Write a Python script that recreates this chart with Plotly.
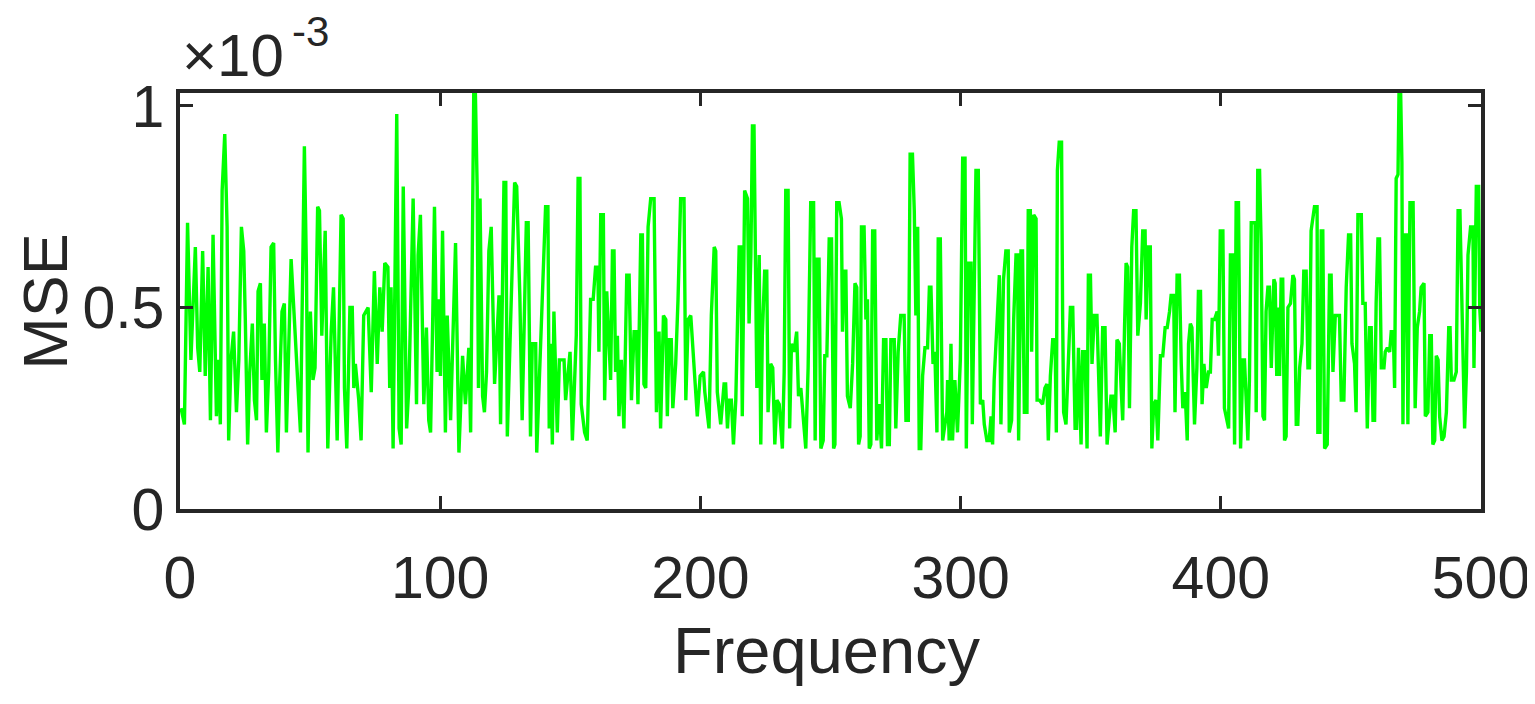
import plotly.graph_objects as go

# Frequency positions and MSE values (in units of 1e-3)
freq = [
    0.4, 1.7, 2.9, 4.2, 5.3, 5.9, 6.8, 7.6, 8.7, 9.7, 10.8, 11.7, 12.7, 14.0, 14.9, 15.5, 16.2, 17.2, 18.1, 18.7,
    19.6, 20.6, 21.7, 22.6, 23.6, 24.5, 25.1, 26.0, 26.8, 27.8, 28.6, 29.4, 30.0, 30.9, 31.5, 32.4, 33.2, 34.1,
    35.0, 36.0, 36.7, 37.6, 38.3, 39.2, 40.1, 40.9,
    42.7, 44.4, 45.6, 46.3, 47.8, 48.6, 49.2, 50.1, 51.1, 51.9, 52.9, 53.6, 54.5, 55.8, 56.8, 58.1, 59.0, 60.4,
    61.9, 62.7, 63.2, 64.1, 65.3, 66.2, 66.8, 67.4, 68.7, 69.6, 70.6, 72.3, 73.5, 74.7, 75.8, 76.8, 77.7, 78.7,
    79.9, 80.6, 81.1, 81.9, 83.3,
    84.2, 85.0, 85.8, 87.1, 88.0, 89.6, 90.9, 91.5, 92.4, 93.7, 94.7, 95.6, 96.3, 97.1, 97.8, 98.8, 99.4, 100.1,
    100.9, 102.0, 102.7, 104.0, 105.9, 107.2, 108.6, 109.7, 111.0, 111.7, 112.9, 113.5, 114.2, 114.7, 115.3,
    116.3, 117.0, 117.8, 118.7, 119.6, 120.9, 122.6, 123.2, 124.5, 125.2, 125.8,
    127.3, 128.6, 129.4, 130.6, 131.5, 133.1, 133.8, 134.7, 135.4, 136.7, 137.1, 139.5, 140.5, 141.4, 141.9,
    142.4, 143.1, 143.7, 145.0, 145.8, 147.6, 148.2, 149.9, 150.8, 152.3, 153.0, 153.7, 154.2, 155.5, 156.5,
    157.8, 158.8, 159.7, 160.6, 161.0, 161.7, 162.7, 163.2, 164.0, 165.5, 166.2, 166.8, 167.4,
    168.1, 168.7, 169.6, 170.6, 171.7, 172.6, 173.5, 174.5, 175.4, 176.0, 177.1, 177.7, 178.3, 179.0, 179.9,
    180.9, 182.2, 183.1, 184.1, 184.7, 185.8, 186.7, 187.3, 187.9, 188.8, 189.4, 190.5, 191.4, 192.4, 193.7,
    194.4, 195.3, 196.3, 197.8, 198.8, 199.9, 201.2, 201.7, 203.3, 204.2, 205.3, 205.9, 206.5, 207.8, 209.1, 209.7,
    210.4, 211.0, 211.9, 212.7, 213.6, 214.9, 215.5, 216.1, 217.0, 218.1, 218.7, 219.4, 220.0, 220.6, 221.3,
    221.7, 222.6, 223.2, 223.8, 224.7, 225.5, 226.0, 227.0, 227.8, 228.6, 229.4, 230.3, 231.5, 232.2, 232.8,
    233.7, 234.3, 235.0, 236.0, 237.0, 237.7, 238.6, 239.6, 240.5, 241.4, 242.4, 243.5, 244.1, 244.7, 245.6,
    246.3, 247.2, 247.8, 248.6, 249.5, 250.4, 251.2, 251.7, 252.4,
    253.3, 254.2, 254.6, 255.2, 255.9, 256.5, 257.6, 258.5, 259.4, 260.1, 260.8, 261.4, 261.9, 262.9, 263.6,
    264.2, 264.9, 265.5, 266.2, 267.0, 267.8, 268.7, 269.6, 270.4, 271.3, 271.9, 272.6, 273.2, 274.5, 275.1,
    276.0, 277.0, 278.3, 279.0, 279.9, 280.6, 281.5, 282.2, 282.8, 283.5, 284.1, 284.7, 285.4, 286.3, 287.3,
    288.0, 288.6, 289.4, 290.1, 290.9, 291.4, 292.2, 293.1, 294.0, 294.7,
    295.0, 295.6, 296.3, 296.9, 297.8, 298.8, 299.9, 300.8, 301.7, 302.2, 303.0, 304.0, 304.5, 305.3, 305.9,
    306.8, 307.6, 308.5, 309.1, 310.1, 311.0, 311.7, 312.3, 312.9, 314.0, 314.9, 315.5, 316.5, 317.4, 318.3,
    318.7, 319.6, 320.4, 321.3, 321.9, 322.3, 323.2, 323.8, 324.5, 325.5, 326.0, 326.8, 327.3, 328.1, 329.0,
    329.4, 330.3, 331.5, 332.4, 333.2, 333.7, 334.5, 335.4, 336.3, 336.8,
    337.2, 337.9, 338.8, 339.2, 339.6, 340.5, 341.2, 342.2, 343.1, 344.0, 344.6, 345.3, 346.3, 346.9, 347.8,
    348.6, 349.1, 349.9, 350.5, 351.4, 352.4, 352.9, 353.7, 354.6, 355.5, 356.3, 357.2, 357.8, 358.5, 359.4,
    360.1, 361.0, 361.7, 362.3, 363.0, 363.6, 364.2, 364.9, 365.8, 366.5, 367.4, 368.1, 369.1, 370.0, 370.9,
    371.3, 372.2, 372.9, 373.5, 374.2, 375.1, 375.8, 376.8, 377.7, 378.6, 379.4,
    380.3, 380.9, 381.9, 382.4, 383.2, 384.1, 384.8, 385.4, 386.3, 387.1, 387.6, 388.3, 388.9, 389.9, 390.8,
    391.4, 392.2, 392.8, 393.5, 394.4, 395.3, 396.0, 396.7, 397.6, 398.6, 399.1, 399.8, 400.8, 401.4, 402.0,
    403.0, 403.7, 404.6, 405.3, 405.9, 406.8, 407.6, 408.5, 409.1, 409.7, 410.4, 411.0, 411.7, 413.2, 413.6,
    414.2, 414.9, 415.5, 416.2, 416.8, 417.4, 418.1, 418.7, 419.4, 420.4, 420.9, 421.5,
    421.9, 422.6, 423.2, 423.8, 424.5, 425.1, 425.8, 426.8, 427.7, 428.3, 429.0, 429.6, 430.3, 431.2, 431.9,
    432.8, 433.5, 434.1, 434.7, 436.0, 437.0, 437.3, 438.1, 438.6, 439.2, 439.9, 440.9, 441.8, 442.4, 443.1,
    444.0, 445.0, 445.6, 446.3, 447.3, 448.2, 449.1, 449.9, 450.4, 451.4, 452.0, 452.7, 454.0, 454.6, 455.5,
    456.3, 457.2, 457.8, 458.5, 459.1, 459.7, 460.4, 461.0, 461.7, 462.7, 463.2, 464.0,
    464.9, 465.5, 466.3, 466.8, 467.4, 468.1, 468.5, 469.1, 469.6, 470.0, 470.6, 471.3, 471.9, 472.7, 473.9,
    474.7, 475.5, 476.4, 477.0, 478.1, 478.6, 479.6, 480.3, 480.9, 481.5, 482.2, 482.8, 483.5, 484.1, 485.0,
    485.8, 486.7, 487.6, 488.1, 488.6, 489.6, 490.5, 491.2, 491.9, 492.7, 493.7, 494.4, 495.0, 496.0, 496.9,
    497.3, 498.2, 499.1, 499.5, 500.0,
]

mse_e3 = [
    0.25, 0.21, 0.71, 0.37, 0.55, 0.65, 0.40, 0.34, 0.64, 0.33, 0.60, 0.22, 0.68, 0.23, 0.37, 0.21, 0.79, 0.93, 0.70, 0.17,
    0.37, 0.44, 0.24, 0.37, 0.70, 0.64, 0.47, 0.16, 0.34, 0.46, 0.27, 0.22, 0.54, 0.56, 0.32, 0.46, 0.19, 0.34,
    0.65, 0.66, 0.37, 0.14, 0.31, 0.49, 0.51, 0.19,
    0.62, 0.42, 0.27, 0.19, 0.90, 0.59, 0.14, 0.49, 0.32, 0.35, 0.75, 0.74, 0.43, 0.69, 0.15, 0.44, 0.55, 0.17,
    0.73, 0.72, 0.30, 0.15, 0.50, 0.50, 0.30, 0.36, 0.27, 0.17, 0.48, 0.50, 0.29, 0.59, 0.36, 0.55, 0.44, 0.61,
    0.60, 0.30, 0.55, 0.15, 0.98,
    0.20, 0.16, 0.80, 0.20, 0.31, 0.77, 0.26, 0.63, 0.73, 0.26, 0.45, 0.22, 0.19, 0.46, 0.75, 0.34, 0.52, 0.33,
    0.69, 0.19, 0.48, 0.22, 0.66, 0.14, 0.38, 0.26, 0.40, 0.19, 1.04, 1.04, 0.80, 0.30, 0.77,
    0.28, 0.24, 0.34, 0.64, 0.70, 0.31, 0.53, 0.21, 0.81, 0.81, 0.18,
    0.52, 0.81, 0.80, 0.53, 0.22, 0.71, 0.71, 0.18, 0.41, 0.41, 0.14, 0.55, 0.75, 0.75, 0.20,
    0.41, 0.16, 0.49, 0.19, 0.37, 0.37, 0.27, 0.39, 0.17, 0.43, 0.82, 0.82, 0.26, 0.19, 0.17,
    0.52, 0.52, 0.60, 0.60, 0.39, 0.73, 0.73, 0.27, 0.54, 0.32, 0.64, 0.64, 0.34,
    0.43, 0.23, 0.37, 0.20, 0.58, 0.58, 0.27, 0.44, 0.44, 0.26, 0.68, 0.68, 0.31, 0.30, 0.70,
    0.77, 0.77, 0.24, 0.44, 0.20, 0.48, 0.47, 0.23, 0.42, 0.42, 0.25, 0.36, 0.52, 0.77, 0.77,
    0.27, 0.47, 0.48, 0.31, 0.23, 0.33, 0.34, 0.29, 0.20, 0.48, 0.65, 0.64, 0.29, 0.21, 0.31, 0.31,
    0.20, 0.27, 0.27, 0.16, 0.27, 0.65, 0.65, 0.23, 0.79, 0.77, 0.46, 0.63, 0.95, 0.95, 0.63,
    0.30, 0.63, 0.16, 0.43, 0.59, 0.59, 0.24, 0.36, 0.35, 0.16, 0.27, 0.26, 0.15, 0.34, 0.79,
    0.79, 0.20, 0.41, 0.39, 0.44, 0.28, 0.30, 0.22, 0.15, 0.35, 0.76, 0.76, 0.17, 0.62, 0.62,
    0.15, 0.17, 0.38, 0.38, 0.67, 0.67, 0.15, 0.16, 0.76,
    0.76, 0.72, 0.44, 0.59, 0.59, 0.28, 0.25, 0.36, 0.56, 0.55, 0.16, 0.18, 0.70, 0.70, 0.47,
    0.52, 0.15, 0.16, 0.69, 0.69, 0.17, 0.26, 0.15, 0.42, 0.42, 0.16, 0.16, 0.42, 0.42, 0.20,
    0.39, 0.48, 0.48, 0.22, 0.22, 0.88, 0.88, 0.74, 0.48, 0.70, 0.15, 0.15, 0.33, 0.40, 0.40,
    0.55, 0.55, 0.36, 0.39, 0.19, 0.67, 0.67, 0.17, 0.21, 0.24,
    0.32, 0.17, 0.41, 0.17, 0.32, 0.19, 0.37, 0.87, 0.87, 0.15, 0.61, 0.61, 0.21, 0.58, 0.84,
    0.84, 0.26, 0.27, 0.21, 0.17, 0.17, 0.23, 0.16, 0.32, 0.49, 0.58, 0.21, 0.57, 0.64, 0.64,
    0.19, 0.22, 0.47, 0.63, 0.63, 0.17, 0.64, 0.64, 0.24, 0.24, 0.74, 0.74, 0.39, 0.73, 0.72,
    0.27, 0.27, 0.26, 0.30, 0.31, 0.17, 0.33, 0.42, 0.42, 0.19,
    0.84, 0.91, 0.91, 0.49, 0.24, 0.21, 0.35, 0.50, 0.50, 0.20, 0.20, 0.40, 0.16, 0.39, 0.39,
    0.15, 0.58, 0.58, 0.36, 0.48, 0.48, 0.34, 0.18, 0.45, 0.45, 0.16, 0.22, 0.28, 0.28, 0.19,
    0.42, 0.41, 0.30, 0.22, 0.45, 0.61, 0.60, 0.25, 0.65, 0.74, 0.74, 0.43, 0.51, 0.69, 0.69,
    0.47, 0.65, 0.65, 0.15, 0.26, 0.27, 0.17, 0.38, 0.38, 0.45, 0.45,
    0.49, 0.53, 0.53, 0.24, 0.58, 0.58, 0.36, 0.25, 0.29, 0.17, 0.41, 0.46, 0.45, 0.21, 0.35,
    0.54, 0.54, 0.26, 0.36, 0.30, 0.34, 0.34, 0.47, 0.47, 0.49, 0.38, 0.69, 0.69, 0.25, 0.23,
    0.20, 0.63, 0.63, 0.16, 0.76, 0.76, 0.15, 0.37, 0.37, 0.28, 0.17, 0.32, 0.71, 0.71, 0.24,
    0.84, 0.84, 0.66, 0.23, 0.22, 0.49, 0.55, 0.55, 0.35, 0.57, 0.56, 0.33,
    0.50, 0.33, 0.57, 0.57, 0.17, 0.18, 0.50, 0.51, 0.58, 0.57, 0.21, 0.21, 0.35, 0.41, 0.59,
    0.59, 0.35, 0.35, 0.69, 0.75, 0.75, 0.19, 0.19, 0.69, 0.69, 0.15, 0.16, 0.58, 0.58, 0.34,
    0.48, 0.48, 0.48, 0.27, 0.27, 0.55, 0.68, 0.68, 0.41, 0.36, 0.24, 0.73, 0.73, 0.51, 0.51,
    0.20, 0.45, 0.45, 0.22, 0.22, 0.51, 0.67, 0.67, 0.35, 0.35, 0.39, 0.40,
    0.39, 0.44, 0.44, 0.30, 0.82, 0.83, 1.04, 1.04, 0.86, 0.21, 0.68, 0.68, 0.21, 0.76, 0.76,
    0.25, 0.45, 0.49, 0.55, 0.56, 0.23, 0.24, 0.43, 0.43, 0.16, 0.17, 0.38, 0.37, 0.23, 0.17,
    0.18, 0.24, 0.45, 0.45, 0.32, 0.32, 0.34, 0.74, 0.74, 0.47, 0.20, 0.34, 0.63, 0.70, 0.70,
    0.35, 0.80, 0.80, 0.50, 0.44,
]

x_ticks = [0, 100, 200, 300, 400, 500]
y_ticks = [0, 0.5, 1]
y_tick_text = ["0", "0.5", "1"]
x_title = "Frequency"
y_title = "MSE"

axis_color = "#262626"
font_family = "Liberation Sans, Arial, sans-serif"

fig = go.Figure()
fig.add_trace(go.Scatter(
    x=freq, y=mse_e3, mode="lines",
    line=dict(color="#00FF00", width=3.4),
    showlegend=False,
))

fig.update_layout(
    width=1535, height=704,
    margin=dict(l=172, r=62, t=85, b=203),
    paper_bgcolor="white", plot_bgcolor="white",
    font=dict(family=font_family, color=axis_color),
)

fig.update_xaxes(
    range=[0, 500], tickvals=x_ticks, ticktext=[str(v) for v in x_ticks],
    ticks="inside", ticklen=13, tickwidth=3, tickcolor=axis_color,
    showline=True, linewidth=3.5, linecolor=axis_color, mirror="ticks",
    showgrid=False, zeroline=False, automargin=False,
    tickfont=dict(size=59, color=axis_color), ticklabelstandoff=14,
)
fig.update_yaxes(
    range=[0, 1.032], tickvals=y_ticks, ticktext=y_tick_text,
    ticks="inside", ticklen=13, tickwidth=3, tickcolor=axis_color,
    showline=True, linewidth=3.5, linecolor=axis_color, mirror="ticks",
    showgrid=False, zeroline=False, automargin=False,
    tickfont=dict(size=59, color=axis_color), ticklabelstandoff=0,
)

# axis titles
fig.add_annotation(
    text=x_title, xref="paper", yref="paper", x=0.497, y=-0.34,
    xanchor="center", yanchor="middle", showarrow=False,
    font=dict(size=65, color=axis_color, family=font_family),
)
fig.add_annotation(
    text=y_title, xref="paper", yref="paper", x=-0.104, y=0.5,
    xanchor="center", yanchor="middle", showarrow=False, textangle=-90,
    borderpad=0,
    font=dict(size=63, color=axis_color, family=font_family),
)

# exponent label
fig.add_annotation(
    text="×10", xref="paper", yref="paper", x=0.0, y=1.09,
    xanchor="left", yanchor="middle", showarrow=False,
    font=dict(size=60, color=axis_color, family=font_family),
)
fig.add_annotation(
    text="-3", xref="paper", yref="paper", x=0.085, y=1.148,
    xanchor="left", yanchor="middle", showarrow=False, borderpad=0,
    font=dict(size=42, color=axis_color, family=font_family),
)

fig.write_html("out.html")
